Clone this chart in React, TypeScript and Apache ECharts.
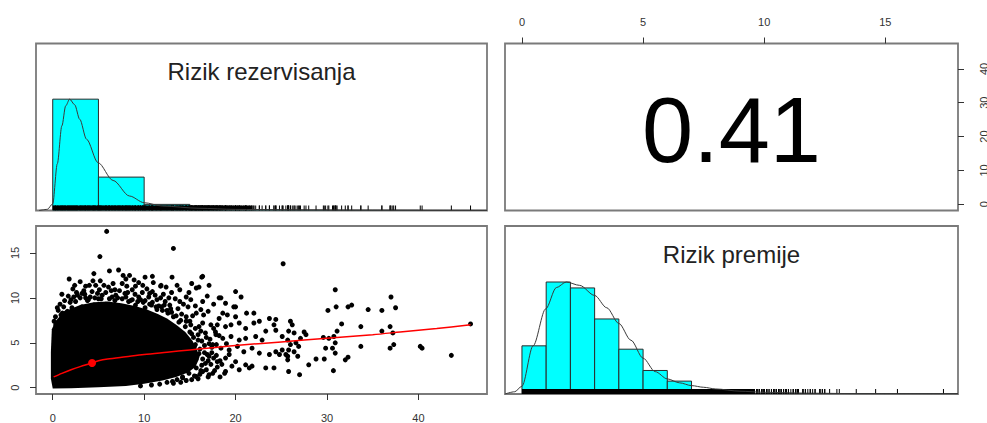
import React, { useEffect, useRef } from "react";
import * as echarts from "echarts";

// Axis ranges (data range plus 4% padding, as in a pairs plot)
const rezervRange = [-1.83, 47.5];
const premijeRange = [-0.7, 18.0];
const rezervTicks = [0, 10, 20, 30, 40];
const premijeTicks = [0, 5, 10, 15];
const premijeTopTicks = [0, 5, 10, 15];

const correlation = "0.41";

// Histogram of "Rizik rezervisanja" (counts scaled so the tallest bin is 1)
const rezervBreaks = [0, 5, 10, 15, 20, 25, 30, 35, 40, 45, 50];
const rezervHeights = [1.0, 0.3, 0.055, 0.012, 0.006, 0.004, 0.002, 0.002, 0.001, 0.001];

// Density curve of "Rizik rezervisanja" (peak scaled to 1)
const rezervDensX = [-1.5, -0.6, 0, 0.5, 1.0, 1.42, 1.85, 2.4, 2.95, 3.7, 4.95, 6.6, 8.4, 10, 12, 16, 20, 25, 30, 40, 47.5];
const rezervDensY = [0, 0.01, 0.06, 0.42, 0.76, 0.94, 1.0, 0.95, 0.82, 0.64, 0.43, 0.27, 0.13, 0.07, 0.04, 0.02, 0.01, 0.006, 0.004, 0.002, 0.001];

// Histogram of "Rizik premije"
const premijeBreaks = [0, 1, 2, 3, 4, 5, 6, 7, 8, 9, 10, 11, 12, 13, 14, 15, 16, 17, 18];
const premijeHeights = [0.43, 1.0, 0.947, 0.67, 0.4, 0.21, 0.115, 0.025, 0.008, 0.004, 0.003, 0.002, 0.001, 0.001, 0.001, 0.0005, 0.0005, 0.0005];

// Density curve of "Rizik premije"
const premijeDensX = [-0.7, -0.3, 0, 0.46, 0.98, 1.42, 1.83, 2.38, 3.0, 3.5, 4.0, 4.5, 5.0, 5.5, 6.0, 6.5, 7.0, 7.5, 8.0, 9.0, 10.0, 12.0, 14.0, 18.0];
const premijeDensY = [0, 0.02, 0.07, 0.43, 0.76, 0.95, 1.0, 0.97, 0.88, 0.77, 0.63, 0.48, 0.32, 0.2, 0.135, 0.1, 0.075, 0.06, 0.045, 0.025, 0.015, 0.007, 0.003, 0.001];

// Solid core of the scatter cloud (Rizik rezervisanja, Rizik premije)
const denseCoreOutline: [number, number][] = [
  [0.0, -0.1], [-0.2, 1], [-0.2, 4], [-0.1, 6.5], [0.3, 7.4], [0.9, 8.1], [1.8, 8.7],
  [3, 9.2], [4.5, 9.5], [6, 9.6], [7.5, 9.4], [9, 9.1], [10.3, 8.7], [11.5, 8.2],
  [12.5, 7.7], [13.5, 7.0], [14.5, 6.2], [15.3, 5.2], [15.8, 4.2], [16, 3.2], [15.6, 2.3],
  [14.8, 1.7], [13.5, 1.2], [12, 0.8], [10, 0.45], [8, 0.2], [5, 0.05], [2, -0.05],
];

// Individual observations above the core
const upperPoints: [number, number][] = [
  [5.9, 17.4], [5.16, 14.6], [1.8, 12.1], [6.2, 13.0], [7.2, 13.1], [4.5, 12.7], [7.7, 12.5],
  [8.0, 12.1], [8.4, 12.5], [10.1, 12.3], [10.9, 12.4], [3.0, 11.8], [3.6, 11.3], [4.0, 11.4],
  [4.7, 11.4], [5.6, 11.4], [6.1, 11.2], [9.05, 11.3], [9.85, 11.4], [10.9, 10.7], [11.8, 11.3],
  [2.7, 10.3], [3.2, 10.5], [7.9, 10.5], [8.7, 10.9], [9.4, 10.1], [1.06, 8.3], [1.6, 8.5],
  [0.33, 7.0], [2.3, 10.1], [3.6, 10.0], [4.1, 10.1], [4.9, 10.5], [5.4, 10.3], [6.5, 10.1],
  [7.1, 10.0], [8.0, 10.1], [8.7, 9.8], [9.6, 9.8], [10.5, 10.1], [11.2, 10.3], [11.8, 10.0],
  [1.4, 8.3], [2.1, 8.9], [3.2, 9.0], [4.5, 9.2], [5.8, 9.3], [7.4, 9.0], [9.05, 9.2],
  [10.1, 8.9], [11.4, 8.7], [0.15, 7.4], [0.3, 7.9], [0.9, 8.1], [1.2, 9.0], [2.5, 9.6],
  [3.9, 9.8], [5.0, 9.9], [6.8, 9.7], [8.3, 9.6], [9.9, 9.5], [10.8, 9.2], [11.9, 9.0],
  [0.6, 8.6], [1.9, 9.5], [3.4, 10.8], [6.8, 10.9], [7.6, 11.6], [10.3, 11.0], [5.2, 11.9],
  [8.9, 12.0], [2.2, 11.0], [12.3, 9.6], [12.8, 9.2], [13.4, 9.9], [13.7, 8.8], [14.3, 9.3],
  [12.1, 10.4], [13.0, 10.6], [13.2, 15.5],
  [0.5, 8.9], [0.8, 9.3], [1.3, 9.7], [1.7, 10.2], [2.0, 9.8], [2.6, 10.6], [3.0, 10.0],
  [3.5, 10.4], [3.8, 9.7], [4.3, 10.7], [4.6, 10.0], [5.1, 10.9], [5.3, 9.9], [5.8, 10.6],
  [6.2, 9.9], [6.4, 10.8], [6.9, 10.3], [7.3, 10.8], [7.6, 9.9], [8.2, 10.6], [8.5, 9.7],
  [9.0, 10.4], [9.3, 9.6], [9.8, 10.6], [10.1, 9.7], [10.6, 10.5], [10.9, 9.5], [11.4, 9.8],
  [11.6, 9.1], [12.2, 9.2], [12.5, 8.6], [13.0, 8.4], [13.5, 8.0], [14.0, 7.5], [14.6, 7.9],
  [15.1, 7.0], [15.6, 6.6], [16.2, 6.3], [1.0, 10.4], [2.4, 11.4], [4.4, 11.9], [6.6, 11.6],
  [8.1, 11.3], [9.4, 11.7], [11.0, 11.7], [12.4, 11.2], [13.6, 11.4], [14.9, 10.6], [12.7, 10.0],
  [13.9, 9.6], [14.8, 9.0], [15.6, 9.1], [16.2, 8.7], [17.6, 9.3], [16.9, 10.2], [18.6, 8.3],
];

// Speckled edge of the cloud between 12 and 20
const edgePoints: [number, number][] = [
  [14.5, 6.8], [15.0, 6.2], [15.4, 5.6], [15.9, 5.9], [16.3, 5.2], [15.6, 4.8], [16.1, 4.3],
  [16.6, 4.7], [15.3, 3.9], [15.8, 3.5], [16.4, 3.2], [16.9, 3.7], [15.2, 2.7], [15.7, 2.2],
  [16.3, 2.5], [16.8, 2.0], [14.9, 1.6], [15.5, 1.3], [16.1, 1.5], [14.2, 1.2], [13.6, 0.9],
  [14.6, 7.4], [13.8, 7.3], [13.2, 7.9], [12.6, 8.3], [12.0, 8.6], [11.3, 9.0], [10.6, 9.3],
  [16.7, 6.1], [17.2, 5.4], [17.4, 4.5], [17.6, 3.3], [17.3, 2.6], [17.0, 1.2], [15.0, 7.4],
  [16.0, 6.8], [12.9, 8.8], [14.1, 8.2], [15.3, 8.0], [17.8, 6.2], [18.3, 3.0], [18.0, 2.3],
  [16.8, 5.6], [17.1, 4.9], [16.6, 3.9], [17.4, 3.9], [17.0, 3.0], [16.7, 2.7], [16.2, 1.9],
  [15.9, 1.0], [15.2, 0.9], [14.6, 0.8], [14.0, 0.6], [13.2, 0.5], [12.5, 0.6], [11.7, 0.4],
  [17.9, 4.8], [18.2, 5.8], [17.6, 6.6], [16.4, 7.2], [17.9, 3.6], [18.5, 2.6], [17.7, 1.9],
  [18.3, 1.2], [19.0, 4.9], [19.3, 3.7], [19.6, 2.4], [16.0, 3.8], [15.5, 4.6], [15.9, 5.3],
  [15.2, 6.0], [10.8, 0.3], [9.6, 0.2],
];

// Sparse tail between 12 and 25
const tailPoints: [number, number][] = [
  [13.05, 12.3], [16.3, 12.3], [15.2, 11.6], [17.1, 11.4], [15.7, 11.1], [16.0, 11.2], [13.9, 10.9],
  [11.85, 11.4], [20.0, 10.7], [20.6, 10.1], [18.4, 10.0], [18.9, 9.4], [19.8, 9.0], [14.6, 10.1],
  [15.1, 9.8], [16.4, 9.6], [17.0, 8.5], [15.7, 8.3], [16.5, 8.1], [18.2, 7.7], [19.1, 8.1],
  [20.0, 7.9], [21.2, 8.3], [22.0, 8.3], [22.6, 7.4], [23.7, 7.7], [24.4, 7.6], [24.2, 7.0],
  [23.3, 6.3], [24.4, 6.4], [17.3, 7.0], [18.0, 7.0], [18.9, 6.8], [19.5, 7.0], [20.4, 7.2],
  [21.1, 6.6], [22.0, 7.2], [17.85, 5.9], [18.6, 5.5], [19.5, 5.7], [20.4, 5.3], [21.1, 5.5],
  [22.2, 5.7], [22.9, 5.3], [17.5, 4.8], [18.4, 4.4], [19.3, 4.2], [20.2, 4.6], [20.9, 4.0],
  [21.8, 4.4], [22.6, 3.85], [23.7, 3.7], [24.4, 4.0], [17.1, 3.5], [18.0, 2.9], [18.9, 3.3],
  [20.0, 2.9], [21.1, 2.55], [21.8, 2.4], [23.3, 2.2], [24.2, 2.2], [16.4, 1.8], [17.5, 1.6],
  [18.9, 1.8], [20.4, 2.0], [21.5, 2.2], [15.7, 1.25], [17.1, 1.45], [18.8, 1.6], [13.1, 0.7],
  [14.2, 1.1], [16.4, 12.4], [18.2, 10.0], [20.0, 9.0], [25.2, 13.8],
];

// Far observations beyond 25
const farPoints: [number, number][] = [
  [25.1, 5.7], [25.1, 4.2], [25.7, 3.5], [24.8, 3.7], [30.9, 10.9], [37.0, 10.1], [31.0, 9.0],
  [32.3, 9.0], [32.7, 9.2], [30.1, 8.6], [34.5, 8.7], [36.0, 8.6], [37.5, 8.9], [31.6, 7.1],
  [31.1, 6.3], [33.7, 6.8], [36.0, 6.3], [36.9, 6.8], [37.2, 6.1], [30.75, 5.7], [30.9, 5.0],
  [30.6, 4.4], [29.85, 4.4], [30.9, 3.85], [29.6, 5.6], [30.2, 5.5], [33.7, 4.6], [36.9, 4.4],
  [37.3, 4.8], [32.0, 3.1], [32.3, 3.4], [29.7, 3.2], [28.8, 3.2], [30.7, 1.9], [28.0, 2.55],
  [27.0, 1.45], [25.8, 1.8], [26.0, 7.4], [26.2, 7.0], [25.8, 6.3], [26.4, 6.1], [27.5, 6.2],
  [27.7, 5.9], [27.1, 5.5], [25.7, 5.3], [26.0, 4.8], [26.6, 5.0], [26.9, 4.6], [25.8, 4.2],
  [26.4, 4.0], [26.8, 3.5], [25.7, 3.1], [25.5, 3.7], [40.2, 4.6], [40.4, 4.4], [43.6, 3.6],
  [45.7, 7.1],
];

// Where the rug marks merge into a solid band
const rezervRugBand = [0, 21.8];
const premijeRugBand = [0, 9.6];

// Loess smoother and mean point
const loessX = [0.1, 1, 2, 3, 4.3, 5, 6, 8, 10, 12.5, 15, 17.5, 20, 25, 30, 35, 38, 42, 45.7];
const loessY = [1.2, 1.6, 2.0, 2.35, 2.75, 3.0, 3.2, 3.45, 3.7, 3.95, 4.2, 4.45, 4.7, 5.1, 5.5, 5.9, 6.2, 6.6, 7.0];
const meanPoint: [number, number] = [4.3, 2.75];

const FONT = '"Liberation Sans", Arial, Helvetica, sans-serif';
const BORDER = "#7a7a7a";
const LABEL = "#333";

const allPoints = [...upperPoints, ...edgePoints, ...tailPoints, ...farPoints];

function histSeries(breaks: number[], heights: number[], xi: number) {
  return {
    type: "custom",
    xAxisIndex: xi,
    yAxisIndex: xi,
    clip: true,
    silent: true,
    data: heights.map((h, i) => [breaks[i], breaks[i + 1], h]),
    encode: { x: [0, 1], y: 2 },
    renderItem: (_p: any, api: any) => {
      const a = api.coord([api.value(0), api.value(2)]);
      const b = api.coord([api.value(1), 0]);
      return {
        type: "rect",
        shape: { x: a[0], y: a[1], width: b[0] - a[0], height: b[1] - a[1] },
        style: { fill: "#00ffff", stroke: "#2a2a2a", lineWidth: 1 },
      };
    },
  };
}

function rugSeries(values: number[], band: number[], xi: number) {
  return [
    {
      type: "custom",
      xAxisIndex: xi,
      yAxisIndex: xi,
      clip: true,
      silent: true,
      data: values.map((v) => [v, 0]),
      encode: { x: 0, y: 1 },
      renderItem: (_p: any, api: any) => {
        const p = api.coord([api.value(0), 0]);
        return {
          type: "line",
          shape: { x1: p[0], y1: p[1], x2: p[0], y2: p[1] - 5 },
          style: { stroke: "#000", lineWidth: 1 },
        };
      },
    },
    {
      type: "custom",
      xAxisIndex: xi,
      yAxisIndex: xi,
      clip: true,
      silent: true,
      data: [[band[0], band[1]]],
      encode: { x: [0, 1] },
      renderItem: (_p: any, api: any) => {
        const a = api.coord([api.value(0), 0]);
        const b = api.coord([api.value(1), 0]);
        return {
          type: "rect",
          shape: { x: a[0], y: a[1] - 5, width: b[0] - a[0], height: 5 },
          style: { fill: "#000" },
        };
      },
    },
  ];
}

function densitySeries(xs: number[], ys: number[], xi: number) {
  return {
    type: "line",
    xAxisIndex: xi,
    yAxisIndex: xi,
    data: xs.map((x, i) => [x, ys[i]]),
    showSymbol: false,
    smooth: 0.3,
    smoothMonotone: "x",
    silent: true,
    lineStyle: { color: "#3a3a3a", width: 1 },
  };
}

const hiddenAxis = (gridIndex: number, range: number[]) => ({
  gridIndex,
  type: "value",
  min: range[0],
  max: range[1],
  show: false,
});

const tickAxis = (gridIndex: number, range: number[], values: number[], position: string, rotate: number, margin: number) => ({
  gridIndex,
  type: "value",
  min: range[0],
  max: range[1],
  position,
  axisLine: { show: false, onZero: false },
  splitLine: { show: false },
  axisTick: { show: true, length: 6, customValues: values, lineStyle: { color: LABEL, width: 1 } },
  axisLabel: {
    show: true,
    customValues: values,
    rotate,
    margin,
    fontSize: 11,
    color: LABEL,
    fontFamily: FONT,
  },
});

export default function App() {
  const ref = useRef<HTMLDivElement>(null);

  useEffect(() => {
    if (!ref.current) return;
    const chart = echarts.init(ref.current, undefined, { renderer: "svg" });
    const gridStyle = {
      show: true,
      borderColor: BORDER,
      borderWidth: 1.8,
      backgroundColor: "#fff",
      containLabel: false,
      outerBoundsMode: "none",
    };

    chart.setOption({
      animation: false,
      backgroundColor: "#fff",
      grid: [
        { left: 36, top: 43.5, width: 451, height: 167, ...gridStyle },
        { left: 505, top: 43.5, width: 453, height: 167, ...gridStyle },
        { left: 36, top: 226, width: 451, height: 168, ...gridStyle },
        { left: 505, top: 226, width: 453, height: 168, ...gridStyle },
      ],
      xAxis: [
        hiddenAxis(0, rezervRange),
        tickAxis(1, premijeRange, premijeTopTicks, "top", 0, 16),
        tickAxis(2, rezervRange, rezervTicks, "bottom", 0, 18),
        hiddenAxis(3, premijeRange),
      ],
      yAxis: [
        hiddenAxis(0, [0, 1.5]),
        tickAxis(1, rezervRange, rezervTicks, "right", 90, 20),
        tickAxis(2, premijeRange, premijeTicks, "left", 90, 16),
        hiddenAxis(3, [0, 1.5]),
      ],
      graphic: [
        {
          type: "text",
          x: 261.5,
          y: 71.5,
          silent: true,
          style: {
            text: "Rizik rezervisanja",
            font: `24px ${FONT}`,
            fill: "#222",
            align: "center",
            verticalAlign: "middle",
            textAlign: "center",
            textVerticalAlign: "middle",
          },
        },
        {
          type: "text",
          x: 731.5,
          y: 254.7,
          silent: true,
          style: {
            text: "Rizik premije",
            font: `24px ${FONT}`,
            fill: "#222",
            align: "center",
            verticalAlign: "middle",
            textAlign: "center",
            textVerticalAlign: "middle",
          },
        },
        {
          type: "text",
          x: 731.5,
          y: 130,
          silent: true,
          style: {
            text: correlation,
            font: `92px ${FONT}`,
            fill: "#000",
            align: "center",
            verticalAlign: "middle",
            textAlign: "center",
            textVerticalAlign: "middle",
          },
        },
      ],
      series: [
        // Diagonal panel: Rizik rezervisanja
        histSeries(rezervBreaks, rezervHeights, 0),
        densitySeries(rezervDensX, rezervDensY, 0),
        ...rugSeries(allPoints.map((p) => p[0]), rezervRugBand, 0),

        // Diagonal panel: Rizik premije
        histSeries(premijeBreaks, premijeHeights, 3),
        densitySeries(premijeDensX, premijeDensY, 3),
        ...rugSeries(allPoints.map((p) => p[1]), premijeRugBand, 3),

        // Scatter panel
        {
          type: "custom",
          xAxisIndex: 2,
          yAxisIndex: 2,
          clip: true,
          silent: true,
          data: [[0, 0]],
          encode: { x: 0, y: 1 },
          renderItem: (_p: any, api: any) => ({
            type: "polygon",
            shape: { points: denseCoreOutline.map((p) => api.coord(p)) },
            style: { fill: "#000" },
          }),
        },
        {
          type: "scatter",
          xAxisIndex: 2,
          yAxisIndex: 2,
          data: allPoints,
          symbolSize: 5,
          silent: true,
          itemStyle: { color: "#000", opacity: 1 },
        },
        {
          type: "line",
          xAxisIndex: 2,
          yAxisIndex: 2,
          data: loessX.map((x, i) => [x, loessY[i]]),
          showSymbol: false,
          smooth: 0.3,
          silent: true,
          lineStyle: { color: "#ff0000", width: 1.5 },
        },
        {
          type: "scatter",
          xAxisIndex: 2,
          yAxisIndex: 2,
          data: [meanPoint],
          symbolSize: 8,
          silent: true,
          itemStyle: { color: "#ff0000", opacity: 1 },
        },
      ],
    });

    return () => chart.dispose();
  }, []);

  return (
    <div
      ref={ref}
      style={{ position: "fixed", left: 0, top: 0, width: 987, height: 423, background: "#fff" }}
    />
  );
}
